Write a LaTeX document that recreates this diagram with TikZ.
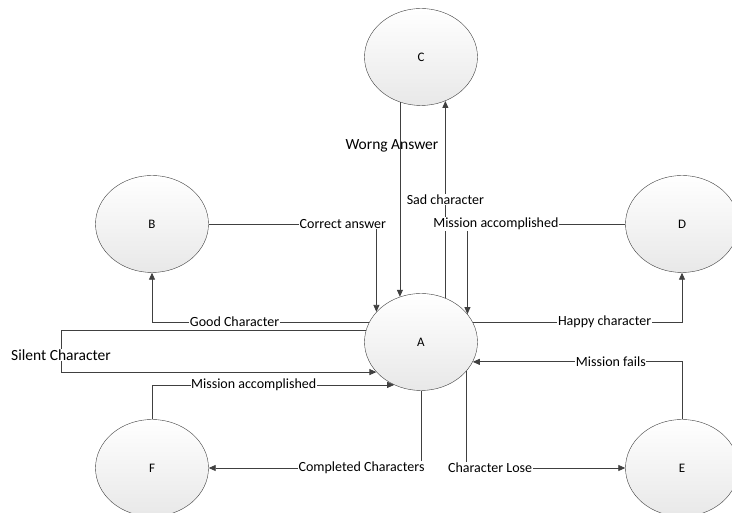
\documentclass[tikz,border=0pt]{standalone}
\usepackage{fontspec}
\setmainfont{Carlito}
\usetikzlibrary{arrows.meta, positioning, shapes.geometric}

\begin{document}
\begin{tikzpicture}[x=1pt, y=1pt,
    state/.style={ellipse, draw=black!75, top color=white, bottom color=black!9,
        minimum width=113pt, minimum height=97pt, inner sep=0pt,
        font=\fontsize{13}{15}\selectfont},
    flow/.style={draw=black!75, line width=0.8pt, -{Triangle[length=7pt, width=6pt]}},
    lbl/.style={fill=white, inner sep=0.6pt, font=\fontsize{14}{16}\selectfont},
    biglbl/.style={lbl, font=\fontsize{15.5}{18}\selectfont}
]
    \useasboundingbox (0,0) rectangle (732,513);
    \node[state] (C) at (421,456) {C};
    \node[state] (B) at (152,289) {B};
    \node[state] (D) at (682,289) {D};
    \node[state] (A) at (421,171) {A};
    \node[state] (F) at (152,45) {F};
    \node[state] (E) at (682,45) {E};
    \coordinate (sl) at (61,0);

    \draw[flow] (C.-115) -- node[biglbl, fill=none, pos=0.225, xshift=-8pt] {Worng Answer} (A.115);
    \draw[flow] (A.61) -- node[lbl] {Sad character} (C.-61);
    \draw[flow] (B.east) -| node[lbl, pos=0.4] {Correct answer} (A.146);
    \draw[flow] (D.west) -| node[lbl, pos=0.41] {Mission accomplished} (A.31);
    \draw[flow] (A.159) -| node[lbl, pos=0.31] {Good Character} (B.south);
    \draw[flow] (A.21) -| node[lbl, pos=0.315] {Happy character} (D.south);
    \draw[flow] (A.168) -- (A.168 -| sl) -- node[biglbl, pos=0.6] {Silent Character} (A.214 -| sl) -- (A.214);
    \draw[flow] (F.north) |- node[lbl, pos=0.71] {Mission accomplished} (A.238);
    \draw[flow] (A.south) |- node[lbl, pos=0.64] {Completed Characters} (F.east);
    \draw[flow] (A.-33) |- node[lbl, pos=0.575] {Character Lose} (E.west);
    \draw[flow] (E.north) |- node[lbl, pos=0.67] {Mission fails} (A.-21);
\end{tikzpicture}
\end{document}
